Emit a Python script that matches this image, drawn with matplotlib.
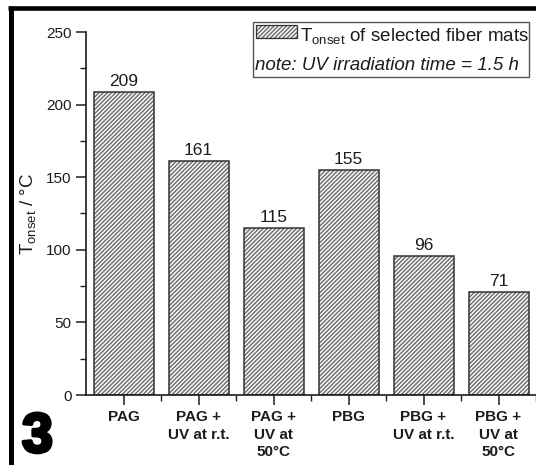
import matplotlib
matplotlib.use("Agg")
import matplotlib.pyplot as plt
from matplotlib.patches import Rectangle
from matplotlib.lines import Line2D
from matplotlib.ticker import MultipleLocator, FixedLocator
import matplotlib.patheffects as pe
import numpy as np

# Onset temperatures of the fibre mats
categories = ["PAG", "PAG +\nUV at r.t.", "PAG +\nUV at\n50°C",
              "PBG", "PBG +\nUV at r.t.", "PBG +\nUV at\n50°C"]
t_onset = [209, 161, 115, 155, 96, 71]
y_ticks = [0, 50, 100, 150, 200, 250]

plt.rcParams["font.family"] = ["Liberation Sans", "DejaVu Sans"]
plt.rcParams["hatch.linewidth"] = 1.1
plt.rcParams["mathtext.fontset"] = "custom"
plt.rcParams["mathtext.rm"] = "Liberation Sans"

ink = "#1c1c1c"
hatch_col = "#727272"
W, H = 536, 465
fig = plt.figure(figsize=(W / 100, H / 100), dpi=100)
ax = fig.add_axes([86 / W, 1 - 395 / H, 1 - 86 / W, (395 - 32) / H])

x = np.arange(len(categories))
# hatched fill, then a dark outline on top
ax.bar(x, t_onset, width=0.8, color="white", edgecolor=hatch_col,
       linewidth=0, hatch="////////")
ax.bar(x, t_onset, width=0.8, color="none", edgecolor="#333333", linewidth=1.1)

for xi, v in zip(x, t_onset):
    ax.text(xi, v + 2, str(v), ha="center", va="bottom", fontsize=12.5, color=ink)

ax.set_xlim(-0.5, 5.5)
ax.set_ylim(0, 250)
ax.set_xticks(x)
ax.set_xticklabels(categories, fontweight="bold", fontsize=10.8, color=ink,
                   linespacing=1.3)
ax.xaxis.set_minor_locator(FixedLocator(np.arange(0.5, 5.6, 1.0)))
ax.set_yticks(y_ticks)
ax.yaxis.set_minor_locator(MultipleLocator(25))
ax.tick_params(axis="both", which="major", direction="out", length=7,
               width=1.1, color=ink, labelsize=11, labelcolor=ink)
ax.tick_params(axis="x", which="major", pad=4)
ax.tick_params(axis="both", which="minor", direction="out", length=4,
               width=1.0, color=ink)

for side in ("top", "right"):
    ax.spines[side].set_visible(False)
for side in ("left", "bottom"):
    ax.spines[side].set_linewidth(1.2)
    ax.spines[side].set_color(ink)

ax.set_ylabel(r"T$_{\rm onset}$ / °C", fontsize=13.5, color=ink, labelpad=5)

# Legend box with hatched swatch and note line
tr = fig.transFigure
fig.add_artist(Rectangle((253 / W, 1 - 77 / H), (529 - 253) / W, 55 / H,
                         transform=tr, facecolor="white", edgecolor="#555555",
                         linewidth=1.0))
fig.add_artist(Rectangle((256 / W, 1 - 38 / H), 41 / W, 13 / H,
                         transform=tr, facecolor="white", edgecolor=hatch_col,
                         linewidth=0, hatch="////////"))
fig.add_artist(Rectangle((256 / W, 1 - 38 / H), 41 / W, 13 / H,
                         transform=tr, facecolor="none", edgecolor="#333333",
                         linewidth=0.9))
fig.text(300 / W, 1 - 42 / H, r"T$_{\rm onset}$ of selected fiber mats",
         fontsize=13.5, color=ink, va="baseline", ha="left")
fig.text(255 / W, 1 - 70 / H, "note: UV irradiation time = 1.5 h",
         fontsize=13.5, color=ink, va="baseline", ha="left", style="italic")

# Panel number and frame
fig.text(22 / W, 1 / H, "3", fontsize=40, fontweight="bold", color="black",
         va="bottom", ha="left",
         path_effects=[pe.withStroke(linewidth=2.5, foreground="black")])
fig.add_artist(Line2D([8 / W, 1.0], [1 - 8 / H, 1 - 8 / H], transform=tr,
                      color="black", linewidth=3.3, solid_capstyle="butt"))
fig.add_artist(Line2D([10.5 / W, 10.5 / W], [1 - 6 / H, 0], transform=tr,
                      color="black", linewidth=3.6, solid_capstyle="butt"))

fig.savefig("out.png", dpi=100, facecolor="white")
